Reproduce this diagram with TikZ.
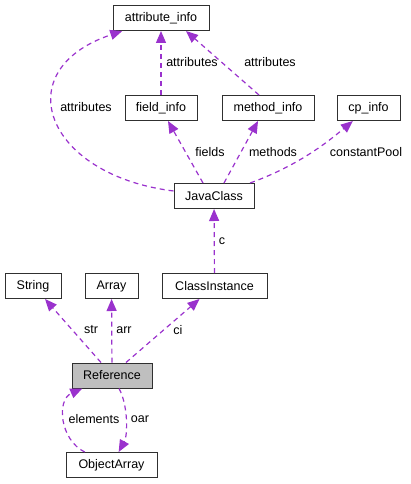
\documentclass[tikz,border=0pt]{standalone}
\usepackage{fontspec}
\setmainfont{Liberation Sans}
\usetikzlibrary{arrows.meta}

\definecolor{edgepurple}{HTML}{9A32CD}
\definecolor{boxline}{HTML}{303030}
\definecolor{curfill}{HTML}{BFBFBF}

\begin{document}
\begin{tikzpicture}[
    x=1pt, y=-1pt,
    >={Triangle[length=12pt,width=10pt,fill=edgepurple]},
    every node/.style={font=\fontsize{12.5}{14}\selectfont},
    box/.style={rectangle, draw=boxline, line width=1pt, fill=white, minimum height=25pt, inner sep=0pt},
    conn/.style={->, draw=edgepurple, line width=1.2pt, dash pattern=on 5pt off 4pt},
    lbl/.style={inner sep=0pt}
  ]
    \useasboundingbox (0,0) rectangle (411,484);

    %=== obere Klassen ===%
    \node[box, minimum width=96] (attrinfo)  at (161,18)    {attribute\_info};
    \node[box, minimum width=72] (fieldinfo) at (161,108)   {field\_info};
    \node[box, minimum width=92] (methinfo)  at (268,108)   {method\_info};
    \node[box, minimum width=63] (cpinfo)    at (368.5,108) {cp\_info};
    \node[box, minimum width=80] (javaclass) at (214,196)   {JavaClass};

    %=== mittlere Reihe ===%
    \node[box, minimum width=56]  (string)   at (33,286)    {String};
    \node[box, minimum width=53]  (array)    at (111.5,286) {Array};
    \node[box, minimum width=105] (clsinst)  at (214.5,286) {ClassInstance};

    %=== untere Klassen ===%
    \node[box, minimum width=80, fill=curfill] (reference) at (112,375.5) {Reference};
    \node[box, minimum width=91] (objarray)  at (111.5,465) {ObjectArray};

    %=== Verbindungen oben ===%
    \draw[conn] (javaclass) .. controls (45,175) and (6,70) .. (attrinfo);
    \draw[conn] (fieldinfo) -- (attrinfo);
    \draw[conn] ([xshift=-9pt]methinfo.north) -- ([xshift=25pt]attrinfo.south);
    \draw[conn] ([xshift=-11pt]javaclass.north) -- ([xshift=7pt]fieldinfo.south);
    \draw[conn] ([xshift=10pt]javaclass.north) -- ([xshift=-10pt]methinfo.south);
    \draw[conn] (javaclass) .. controls (300,165) and (330,140) .. (cpinfo);
    \draw[conn] (clsinst) -- (javaclass);

    %=== Verbindungen unten ===%
    \draw[conn] ([xshift=-11pt]reference.north) -- ([xshift=12pt]string.south);
    \draw[conn] (reference) -- (array);
    \draw[conn] ([xshift=14pt]reference.north) -- ([xshift=-15pt]clsinst.south);
    \draw[conn] (objarray) .. controls (60,440) and (56,400) .. (reference);
    \draw[conn] (reference) .. controls (128,405) and (128,435) .. (objarray);

    %=== Beschriftungen ===%
    \node[lbl] (l1)  at (86,107)  {attributes};
    \node[lbl] (l2)  at (192,62)  {attributes};
    \node[lbl] (l3)  at (270,62)  {attributes};
    \node[lbl] (l4)  at (210,152) {fields};
    \node[lbl] (l5)  at (273,152) {methods};
    \node[lbl] (l6)  at (366,152) {constantPool};
    \node[lbl] (l7)  at (222,241) {c};
    \node[lbl] (l8)  at (91,330)  {str};
    \node[lbl] (l9)  at (124,330) {arr};
    \node[lbl] (l10) at (178,330) {ci};
    \node[lbl] (l11) at (94,419)  {elements};
    \node[lbl] (l12) at (140,419) {oar};

  \end{tikzpicture}
\end{document}
